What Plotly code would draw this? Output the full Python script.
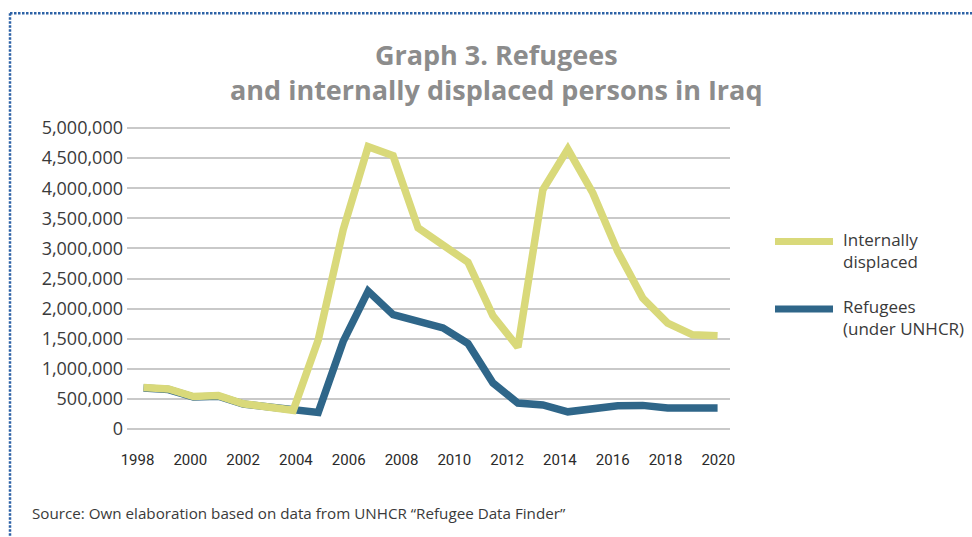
import plotly.graph_objects as go

# ---------------- data ----------------
years = [1998, 1999, 2000, 2001, 2002, 2003, 2004, 2005, 2006, 2007, 2008, 2009,
         2010, 2011, 2012, 2013, 2014, 2015, 2016, 2017, 2018, 2019, 2020, 2021]
internally_displaced = [690000, 665000, 540000, 555000, 420000, 365000, 310000,
                        1480000, 3310000, 4690000, 4540000, 3340000, 3040000,
                        2770000, 1880000, 1360000, 3975000, 4650000, 3920000,
                        2950000, 2175000, 1760000, 1565000, 1550000]
refugees = [680000, 655000, 530000, 545000, 415000, 360000, 305000, 275000,
            1455000, 2290000, 1900000, 1785000, 1680000, 1420000, 765000,
            430000, 400000, 285000, 345000, 385000, 392000, 348000, 348000, 348000]
series_names = ["Internally<br>displaced", "Refugees<br>(under UNHCR)"]
x_tick_labels = [1998, 2000, 2002, 2004, 2006, 2008, 2010, 2012, 2014, 2016, 2018, 2020]
y_tick_values = [0, 500000, 1000000, 1500000, 2000000, 2500000, 3000000,
                 3500000, 4000000, 4500000, 5000000]
title_lines = ["Graph 3. Refugees", "and internally displaced persons in Iraq"]
source_text = "Source: Own elaboration based on data from UNHCR “Refugee Data Finder”"

# ---------------- layout geometry (pixels) ----------------
W_PX, H_PX = 972, 537
L, R = 127, 730          # plot area left/right
T, B = 125.3, 432.3      # plot area top/bottom
PW, PH = R - L, B - T

def px_x(p):
    return (p - L) / PW

def px_y(p):
    return (B - p) / PH

YELLOW = "#d9d97a"
BLUE = "#2f6689"
GRID = "#c9c9c9"
TEXT = "#3a3a3a"
TITLE = "#8c8c8c"
BORDER = "#2d62a6"

fig = go.Figure()
fig.add_trace(go.Scatter(x=years, y=refugees, mode="lines", name=series_names[1],
                         line=dict(color=BLUE, width=7.5), showlegend=False,
                         xaxis="x", yaxis="y"))
fig.add_trace(go.Scatter(x=years, y=internally_displaced, mode="lines", name=series_names[0],
                         line=dict(color=YELLOW, width=7.5), showlegend=False,
                         xaxis="x", yaxis="y"))
# invisible helper trace carrying the label axis
fig.add_trace(go.Scatter(x=[x_tick_labels[0]], y=[0], mode="markers",
                         marker=dict(opacity=0), showlegend=False, hoverinfo="skip",
                         xaxis="x2", yaxis="y"))

# data axis: category centres 24.96 px apart, first at px 143.5
step = 24.96
x0 = years[0]
fig.update_layout(
    xaxis=dict(range=[x0 - (143.5 - L) / step, x0 + (R - 143.5) / step],
               showticklabels=False, showgrid=False, zeroline=False, ticks="",
               showline=False),
    xaxis2=dict(overlaying="x", anchor="y", side="bottom",
                range=[1998 - (137.5 - L) / 26.4, 2020 + (R - 718.3) / 26.4],
                tickvals=x_tick_labels, ticktext=[str(v) for v in x_tick_labels],
                showgrid=False, zeroline=False, ticks="", showline=False,
                ticklabelstandoff=17,
                tickfont=dict(family="Roboto", size=15, color="#2a2a2a")),
    yaxis=dict(range=[-0.05e6, 5.05e6], tickvals=y_tick_values,
               ticktext=[f"{v:,}" for v in y_tick_values],
               showgrid=True, gridcolor=GRID, gridwidth=1.5, zeroline=False,
               ticks="", showline=False, ticklabelstandoff=3,
               tickfont=dict(family="Open Sans", size=18, color=TEXT)),
)

annotations = [
    dict(text="<b>" + "<br>".join(title_lines) + "</b>", x=px_x(496), y=px_y(72.5),
         xref="paper", yref="paper", xanchor="center", yanchor="middle", align="center",
         showarrow=False, font=dict(family="Open Sans", size=27, color=TITLE)),
    dict(text=source_text, x=px_x(30), y=px_y(513), xref="paper", yref="paper",
         xanchor="left", yanchor="middle", showarrow=False,
         font=dict(family="Open Sans", size=15.2, color=TEXT)),
]

shapes = []
# manual legend
legend_rows = [(series_names[0], YELLOW, 241.7, 250.4), (series_names[1], BLUE, 309.3, 317.5)]
for name, col, ly, ty in legend_rows:
    shapes.append(dict(type="line", xref="paper", yref="paper",
                       x0=px_x(775), x1=px_x(833), y0=px_y(ly), y1=px_y(ly),
                       line=dict(color=col, width=7)))
    annotations.append(dict(text=name, x=px_x(841), y=px_y(ty), xref="paper", yref="paper",
                            xanchor="left", yanchor="middle", align="left", showarrow=False,
                            font=dict(family="Open Sans", size=17, color=TEXT)))

# dotted frame (top and left)
shapes.append(dict(type="line", xref="paper", yref="paper",
                   x0=px_x(10), x1=px_x(975), y0=px_y(13.5), y1=px_y(13.5),
                   line=dict(color=BORDER, width=2.5, dash="2.5px,1.5px")))
shapes.append(dict(type="line", xref="paper", yref="paper",
                   x0=px_x(10), x1=px_x(10), y0=px_y(13.5), y1=px_y(540),
                   line=dict(color=BORDER, width=2.5, dash="2.5px,1.5px")))

fig.update_layout(
    width=W_PX, height=H_PX, autosize=False,
    margin=dict(l=L, r=W_PX - R, t=T, b=H_PX - B, pad=0),
    paper_bgcolor="white", plot_bgcolor="white",
    annotations=annotations, shapes=shapes, showlegend=False,
)

fig.write_html("out.html")
